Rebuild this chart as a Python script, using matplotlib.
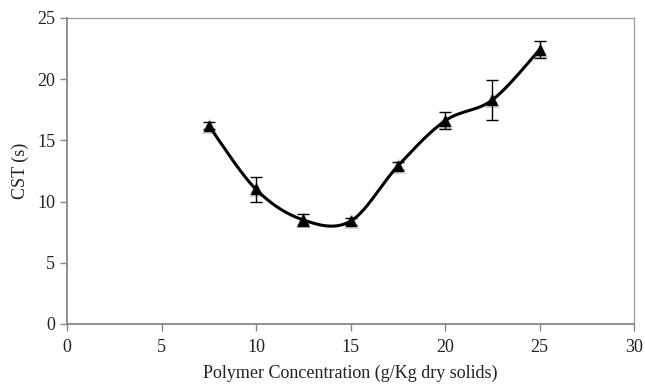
import numpy as np
import matplotlib
matplotlib.use("Agg")
import matplotlib.pyplot as plt

plt.rcParams['font.family'] = ['Liberation Serif', 'DejaVu Serif']

# polymer dose (g/Kg dry solids) vs capillary suction time
conc = [7.5, 10, 12.5, 15, 17.5, 20, 22.5, 25]
cst = [16.2, 11.0, 8.5, 8.4, 12.9, 16.6, 18.3, 22.4]
cst_err = [0.3, 1.0, 0.5, 0.3, 0.3, 0.7, 1.65, 0.7]


def smooth_curve(x, y, n=40):
    # bezier segments with catmull-rom style control points
    x = np.asarray(x, float)
    y = np.asarray(y, float)
    px = np.concatenate([[x[0]], x, [x[-1]]])
    py = np.concatenate([[y[0]], y, [y[-1]]])
    t = np.linspace(0, 1, n)
    xs, ys = [], []
    for i in range(1, len(px) - 2):
        p0 = np.array([px[i], py[i]])
        p3 = np.array([px[i + 1], py[i + 1]])
        p1 = p0 + (np.array([px[i + 1], py[i + 1]]) - np.array([px[i - 1], py[i - 1]])) / 6
        p2 = p3 - (np.array([px[i + 2], py[i + 2]]) - np.array([px[i], py[i]])) / 6
        b = ((1 - t) ** 3)[:, None] * p0 + (3 * (1 - t) ** 2 * t)[:, None] * p1 \
            + (3 * (1 - t) * t ** 2)[:, None] * p2 + (t ** 3)[:, None] * p3
        xs.append(b[:, 0])
        ys.append(b[:, 1])
    return np.concatenate(xs), np.concatenate(ys)


fig = plt.figure(figsize=(6.45, 3.85), dpi=100)
ax = fig.add_axes([67 / 645, 61 / 385, 567 / 645, 306 / 385])

sx, sy = smooth_curve(conc, cst)
ax.plot(sx, sy, color='black', lw=2.2, zorder=3)

# soft shadow under the markers
ax.plot(conc, cst, linestyle='none', marker='^', markersize=10,
        color='#bbbbbb', alpha=0.5, zorder=2)
ax.errorbar(conc, cst, yerr=cst_err, fmt='^', color='black', markersize=7,
            ecolor='black', elinewidth=1, capsize=4, capthick=1, zorder=4)

ax.set_xlim(0, 30)
ax.set_ylim(0, 25)
ax.set_xticks(range(0, 31, 5))
ax.set_yticks(range(0, 26, 5))

for side in ['top', 'right']:
    ax.spines[side].set_color('#9a9a9a')
    ax.spines[side].set_linewidth(0.9)
for side in ['left', 'bottom']:
    ax.spines[side].set_color('#868686')
    ax.spines[side].set_linewidth(1.3)
ax.tick_params(axis='both', colors='#868686', labelcolor='#222222',
               labelsize=13, length=5, width=1)
ax.tick_params(axis='x', pad=6)

ax.set_xlabel('Polymer Concentration (g/Kg dry solids)', fontsize=13,
              color='#222222', labelpad=6)
ax.set_ylabel('CST (s)', fontsize=13, color='#222222', labelpad=6)

fig.savefig('out.png', dpi=100)
